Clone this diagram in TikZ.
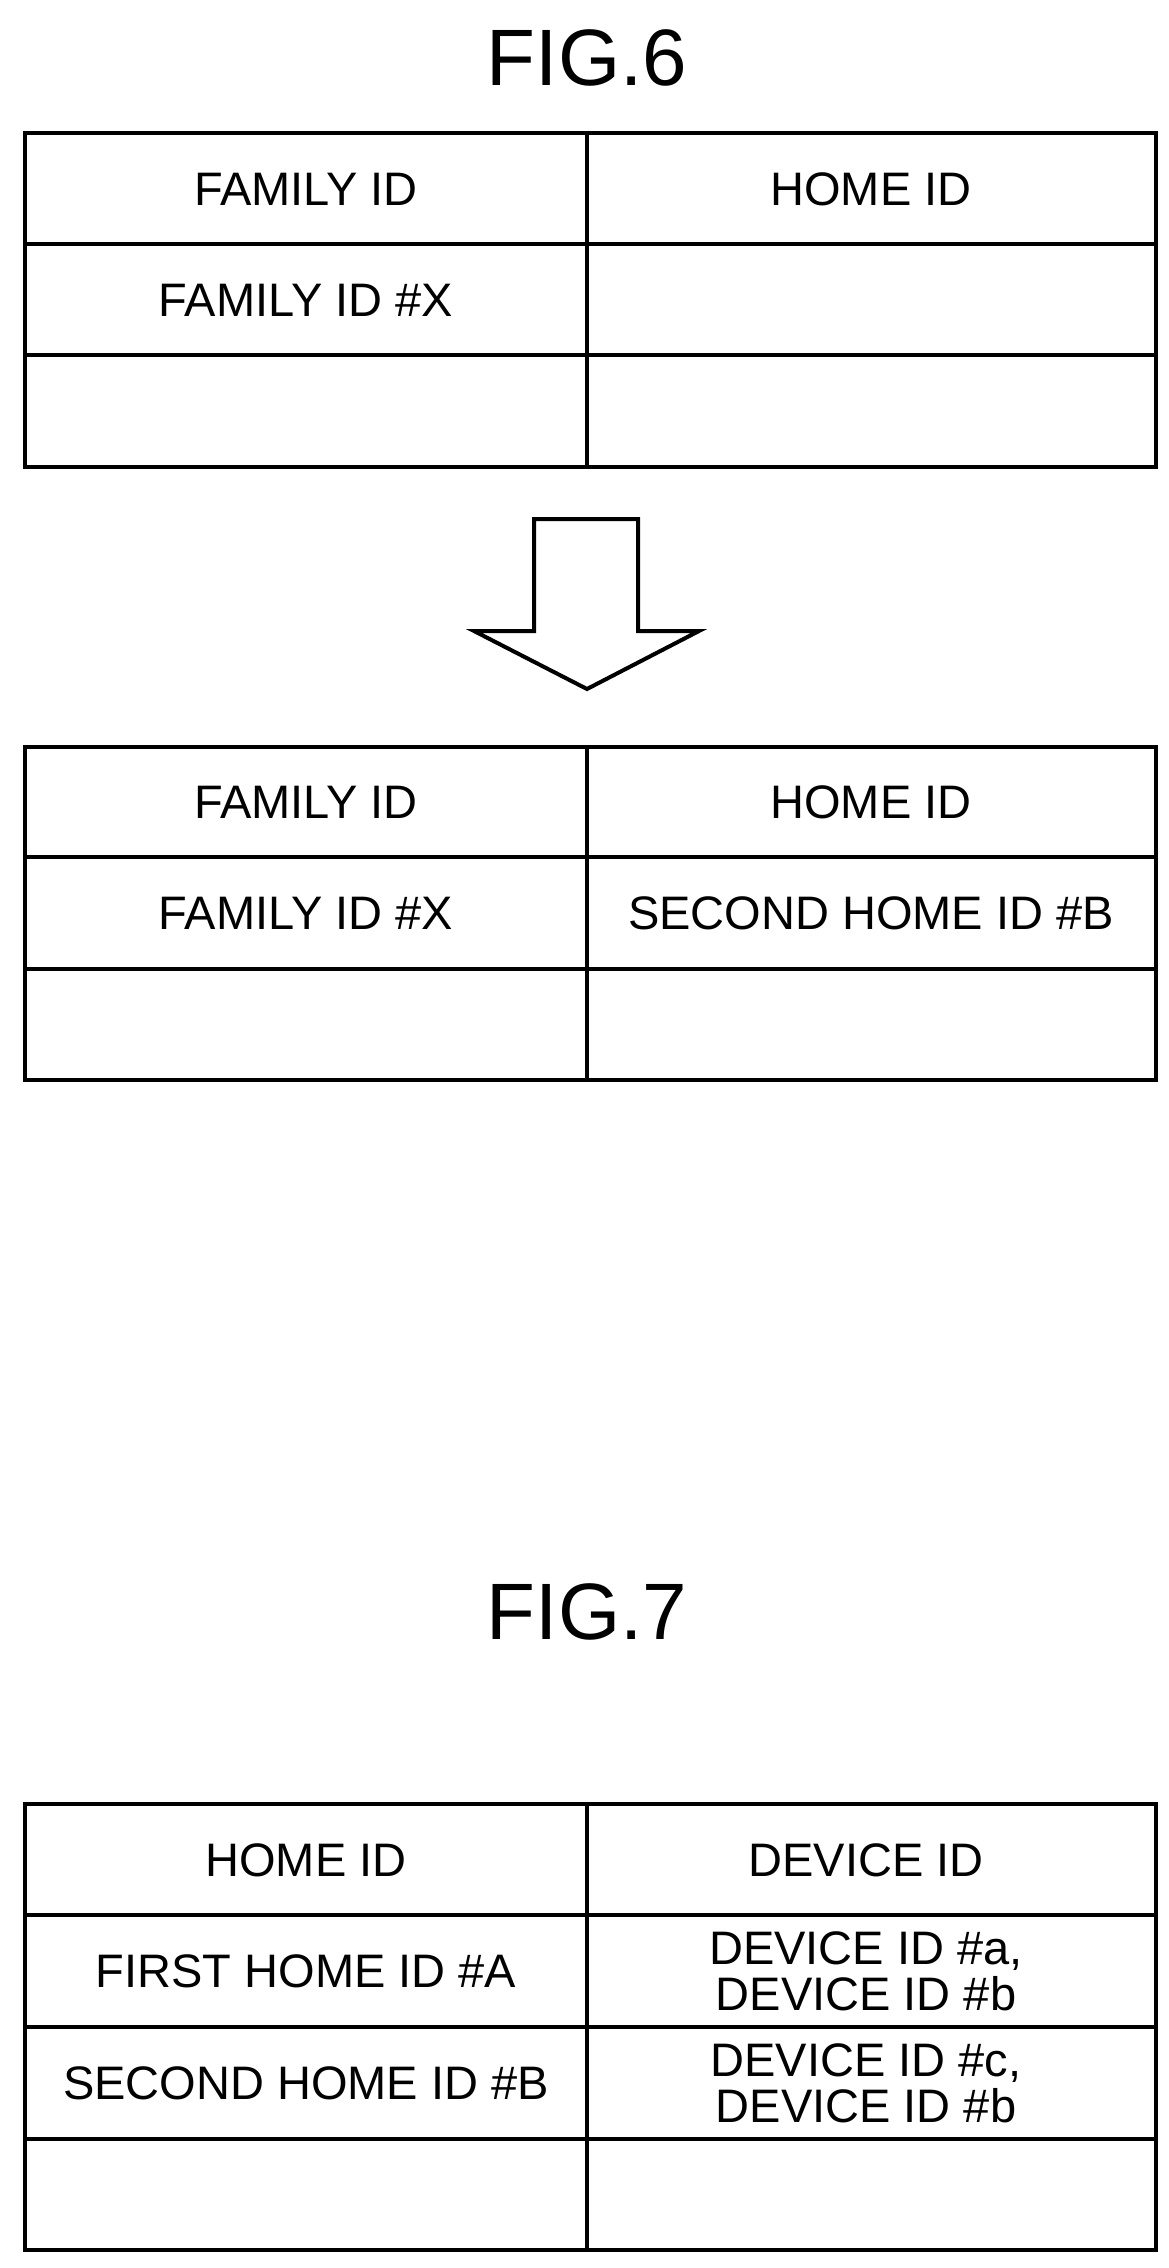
\documentclass[tikz,border=0pt]{standalone}
\usepackage{fontspec}
\setmainfont{Liberation Sans}
\tikzset{
	cell/.style={inner sep=0, outer sep=0, align=center, font=\fontsize{47pt}{46pt}\selectfont},
	title/.style={inner sep=0, outer sep=0, font=\fontsize{80pt}{80pt}\selectfont},
	rule/.style={line width=4.0pt, black},
}
\begin{document}
\begin{tikzpicture}[x=1pt,y=-1pt,line cap=rect]
	\useasboundingbox (0,0) rectangle (1169,2268);
	% FIG.6 upper table
	\node[title] (figA) at (587,58) {FIG.6};
	\draw [rule] (25,133) rectangle (1156,467);
	\draw [rule] (587,133) -- (587,467);
	\foreach \y in {244,355} \draw [rule] (25,\y) -- (1156,\y);
	\node[cell] (famA) at (306,189) {FAMILY ID};
	\node[cell] (homeA) at (871,189) {HOME ID};
	\node[cell] (famXA) at (306,300) {FAMILY ID \#X};
	% arrow
	\draw [rule, line cap=butt, line join=miter] (534,519) -- (638,519) -- (638,631) -- (699,631) -- (587,689) -- (474,631) -- (534,631) -- cycle;
	% FIG.6 lower table
	\draw [rule] (25,747) rectangle (1156,1080);
	\draw [rule] (587,747) -- (587,1080);
	\foreach \y in {857,969} \draw [rule] (25,\y) -- (1156,\y);
	\node[cell] (famB) at (306,802) {FAMILY ID};
	\node[cell] (homeB) at (871,802) {HOME ID};
	\node[cell] (famXB) at (306,913) {FAMILY ID \#X};
	\node[cell] (homeXB) at (871,913) {SECOND HOME ID \#B};
	% FIG.7
	\node[title] (figB) at (587,1612) {FIG.7};
	\draw [rule] (25,1804) rectangle (1156,2250);
	\draw [rule] (587,1804) -- (587,2250);
	\foreach \y in {1915,2027,2139} \draw [rule] (25,\y) -- (1156,\y);
	\node[cell] (homeC) at (306,1860) {HOME ID};
	\node[cell] (devC) at (866,1860) {DEVICE ID};
	\node[cell] (homeAC) at (306,1971) {FIRST HOME ID \#A};
	\node[cell] (devAC) at (866,1971) {DEVICE ID \#a,\\DEVICE ID \#b};
	\node[cell] (homeBC) at (306,2083) {SECOND HOME ID \#B};
	\node[cell] (devBC) at (866,2083) {DEVICE ID \#c,\\DEVICE ID \#b};
\end{tikzpicture}
\end{document}
